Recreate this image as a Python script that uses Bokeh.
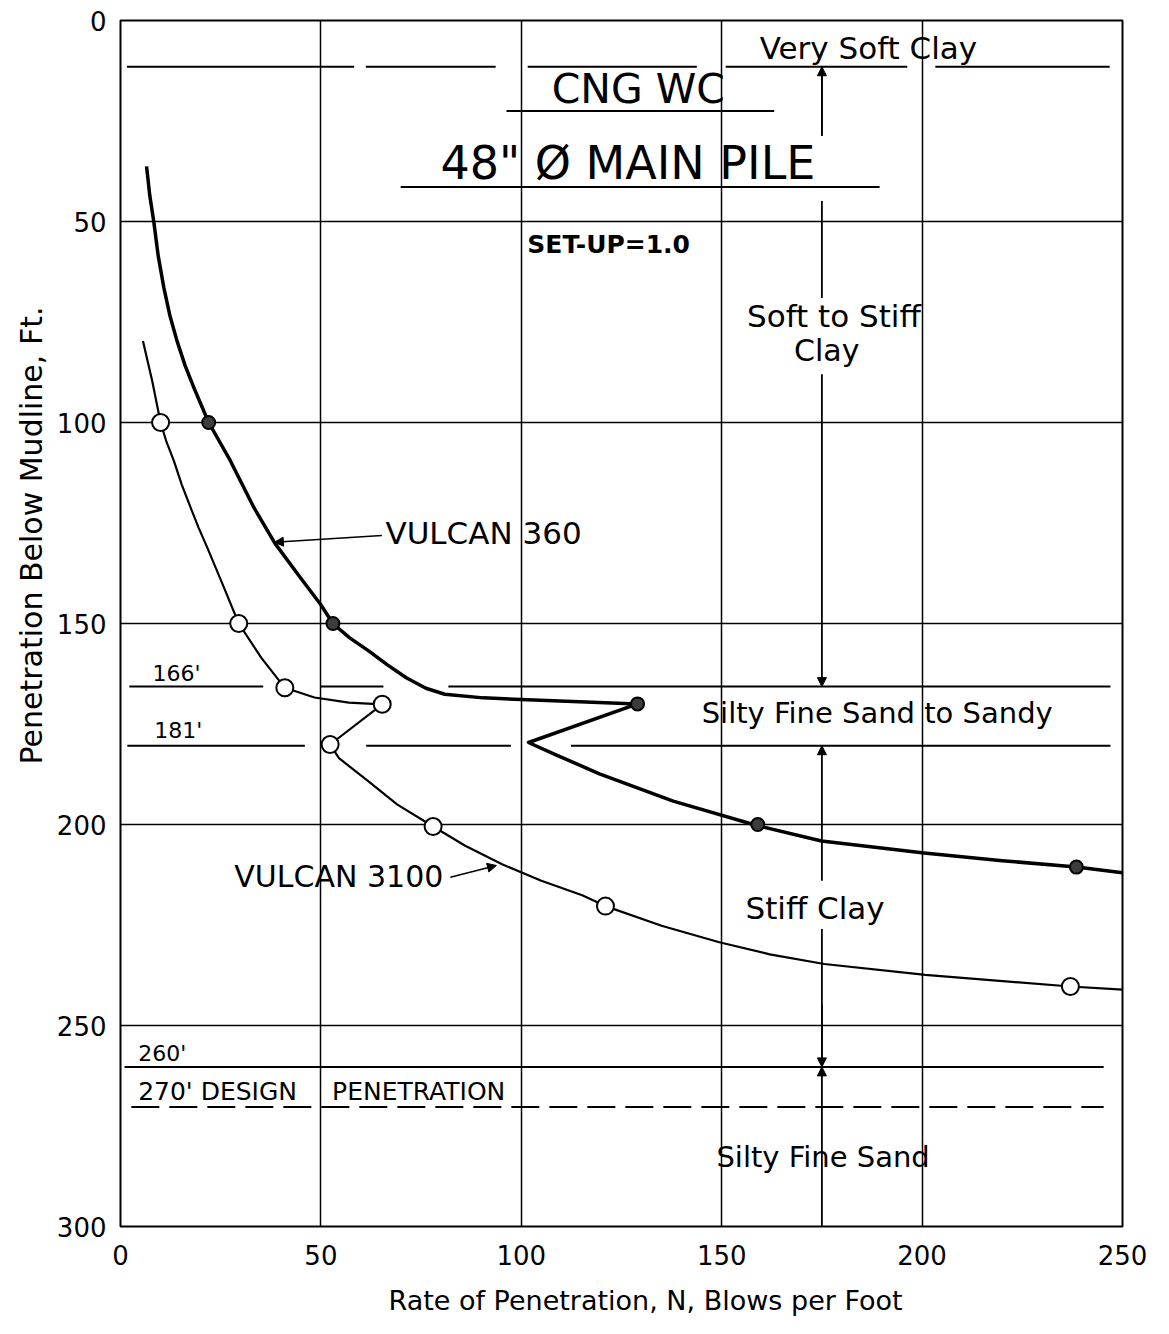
from bokeh.plotting import figure
from bokeh.models import Range1d, Label, Arrow, NormalHead, Title
from bokeh.embed import file_html
from bokeh.resources import INLINE

# ---- data: rate of penetration N (blows/ft) vs depth below mudline (ft) ----
# measured points
v360_blows = [22, 53, 129, 159, 238.5]
v360_depth = [100, 150, 170, 200, 210.6]
v3100_blows = [10, 29.5, 41, 65.3, 52.3, 78, 121, 237]
v3100_depth = [100, 150, 166, 170.1, 180.1, 200.5, 220.3, 240.3]

# faired curves drawn through the points
v360_curve_blows = [6.5, 7.3, 8.3, 9.4, 10.8, 12.3, 14.1, 16.1, 18.3, 22, 27.4, 33.3, 38.5,
                    44.9, 49.9, 53, 57.1, 61.9, 66.6, 71.3, 76.2, 80.9, 90.5, 109.6, 129,
                    101.8, 108.5, 119.5, 137.9, 159, 174.9, 200.5, 220, 238.5, 250]
v360_curve_depth = [36.3, 43.5, 50, 58.5, 66.4, 73.3, 79.7, 85.8, 91.3, 100, 109.5, 121.2, 130,
                    138.6, 145.2, 150, 153.5, 156.8, 160.3, 163.5, 166.1, 167.6, 168.5, 169.3,
                    170, 179.6, 182.6, 187.4, 194.2, 200.3, 204.1, 207.1, 209.0, 210.6, 212]
v3100_curve_blows = [5.6, 7.9, 10, 11.5, 13.3, 15.3, 17.5, 19.5, 21.6, 25.8, 29.5, 35.1, 41,
                     48.4, 57, 65.3, 52.3, 54.5, 61.8, 69, 78, 86, 95.2, 105, 115.2, 121, 135,
                     149.4, 162, 175.6, 200.8, 237, 250]
v3100_curve_depth = [79.7, 89.6, 100, 104.9, 109.5, 115.5, 121.2, 126.2, 131, 141, 150, 158.5,
                     166, 168.4, 169.7, 170.1, 180.1, 183.5, 189.2, 195, 200.5, 205.3, 209.9,
                     214.0, 217.6, 220.3, 225.2, 229.3, 232.3, 234.7, 237.4, 240.3, 241.1]

x_ticks = [0, 50, 100, 150, 200, 250]
y_ticks = [0, 50, 100, 150, 200, 250, 300]

# soil layer boundaries (ft) and the stretches of N over which each rule is drawn
boundary_depths = [11.5, 165.7, 180.4, 260.3]
boundary_spans = [
    [(1.6, 58.3), (61.2, 93.6), (101.6, 143.8), (151, 196.3), (203.3, 246.8)],
    [(2.2, 35.6), (50, 65.6), (81.8, 247)],
    [(1.7, 46), (61.3, 97.4), (112.4, 247)],
    [(1, 245.3)],
]
design_depth = 270.3
design_span = (2.7, 245.3)

# layer-thickness marker column at N = 175
column_n = 175
column_plain = [(28.7, 11.5), (44.9, 69), (226, 260.3), (270.3, 300)]
column_arrows = [(28.7, 11.5), (88, 165.7), (214, 180.4), (245, 260.3), (270.3, 260.3)]

FONT = "DejaVu Sans"

p = figure(width=1169, height=1334, output_backend="svg", toolbar_location=None,
           x_range=Range1d(0, 250), y_range=Range1d(300, 0),
           min_border_left=120, min_border_right=47, min_border_top=20, min_border_bottom=108)
p.background_fill_color = "white"
p.border_fill_color = "white"
p.outline_line_color = "black"
p.outline_line_width = 2

# axes
p.xaxis.ticker = x_ticks
p.yaxis.ticker = y_ticks
for ax in (p.xaxis, p.yaxis):
    ax.axis_line_color = None
    ax.major_tick_line_color = None
    ax.minor_tick_line_color = None
    ax.major_label_text_font = FONT
    ax.major_label_text_font_size = "26px"
    ax.major_label_text_color = "black"
p.xaxis.major_label_standoff = 12
p.yaxis.major_label_standoff = 8

# axis titles, set off-centre along their axes
p.add_layout(Title(text="Rate of Penetration, N, Blows per Foot", align="left", offset=268,
                   text_font=FONT, text_font_size="27px", text_font_style="normal",
                   text_color="black", standoff=30), "below")
p.add_layout(Title(text="Penetration Below Mudline, Ft.", align="left", offset=462,
                   text_font=FONT, text_font_size="30px", text_font_style="normal",
                   text_color="black", standoff=10), "left")

# grid
p.xgrid.ticker = [50, 100, 150, 200]
p.ygrid.ticker = [50, 100, 150, 200, 250]
for g in (p.xgrid, p.ygrid):
    g.grid_line_color = "black"
    g.grid_line_width = 1.5
    g.grid_line_alpha = 1.0

# layer boundary rules
bx0, bx1, by = [], [], []
for d, spans in zip(boundary_depths, boundary_spans):
    for a, b in spans:
        bx0.append(a)
        bx1.append(b)
        by.append(d)
p.segment(x0=bx0, y0=by, x1=bx1, y1=by, line_color="black", line_width=2)
p.segment(x0=[design_span[0]], y0=[design_depth], x1=[design_span[1]], y1=[design_depth],
          line_color="black", line_width=2, line_dash="28 10")

# layer column
p.segment(x0=[column_n] * len(column_plain), y0=[a for a, _ in column_plain],
          x1=[column_n] * len(column_plain), y1=[b for _, b in column_plain],
          line_color="black", line_width=1.8)
for y0, y1 in column_arrows:
    p.add_layout(Arrow(end=NormalHead(size=9, fill_color="black", line_color="black"),
                       x_start=column_n, y_start=y0, x_end=column_n, y_end=y1,
                       line_color="black", line_width=1.8))

# title block rules
p.segment(x0=[96.3, 69.9], y0=[22.5, 41.4], x1=[163.1, 189.4], y1=[22.5, 41.4],
          line_color="black", line_width=2)

# curves
p.line(v360_curve_blows, v360_curve_depth, line_color="black", line_width=3.5,
       line_join="round")
p.line(v3100_curve_blows, v3100_curve_depth, line_color="black", line_width=2.2,
       line_join="round")
p.scatter(v360_blows, v360_depth, marker="circle", size=13, fill_color="#3c3c3c",
          line_color="black", line_width=2)
p.scatter(v3100_blows, v3100_depth, marker="circle", size=17, fill_color="white",
          line_color="black", line_width=2)

# curve labels with leaders
p.add_layout(Arrow(end=NormalHead(size=9, fill_color="black", line_color="black"),
                   x_start=65.2, y_start=128.1, x_end=38.4, y_end=129.8,
                   line_color="black", line_width=1.5))
p.add_layout(Arrow(end=NormalHead(size=9, fill_color="black", line_color="black"),
                   x_start=82.3, y_start=213.1, x_end=93.8, y_end=210.2,
                   line_color="black", line_width=1.5))


def label(x, y, text, size, align="left", style="normal"):
    p.add_layout(Label(x=x, y=y, text=text, text_font=FONT, text_font_size=size,
                       text_align=align, text_baseline="middle", text_color="black",
                       text_font_style=style))


label(66.1, 127.4, "VULCAN 360", "31px")
label(28.4, 213.0, "VULCAN 3100", "30px")

label(129.2, 17.1, "CNG WC", "41px", align="center")
label(126.6, 35.5, "48\" Ø MAIN PILE", "46px", align="center")
label(101.5, 55.8, "SET-UP=1.0", "25px", style="bold")

label(186.6, 6.9, "Very Soft Clay", "31px", align="center")
label(178.0, 73.5, "Soft to Stiff", "31px", align="center")
label(176.2, 82.2, "Clay", "30px", align="center")
label(188.8, 172.3, "Silty Fine Sand to Sandy", "29px", align="center")
label(173.3, 220.8, "Stiff Clay", "31px", align="center")
label(175.3, 282.8, "Silty Fine Sand", "29px", align="center")

label(8.0, 162.4, "166'", "22px")
label(8.4, 176.7, "181'", "22px")
label(4.4, 256.9, "260'", "22px")
label(4.4, 266.4, "270' DESIGN", "25px")
label(52.8, 266.4, "PENETRATION", "25px")

open("out.html", "w").write(file_html(p, INLINE))
